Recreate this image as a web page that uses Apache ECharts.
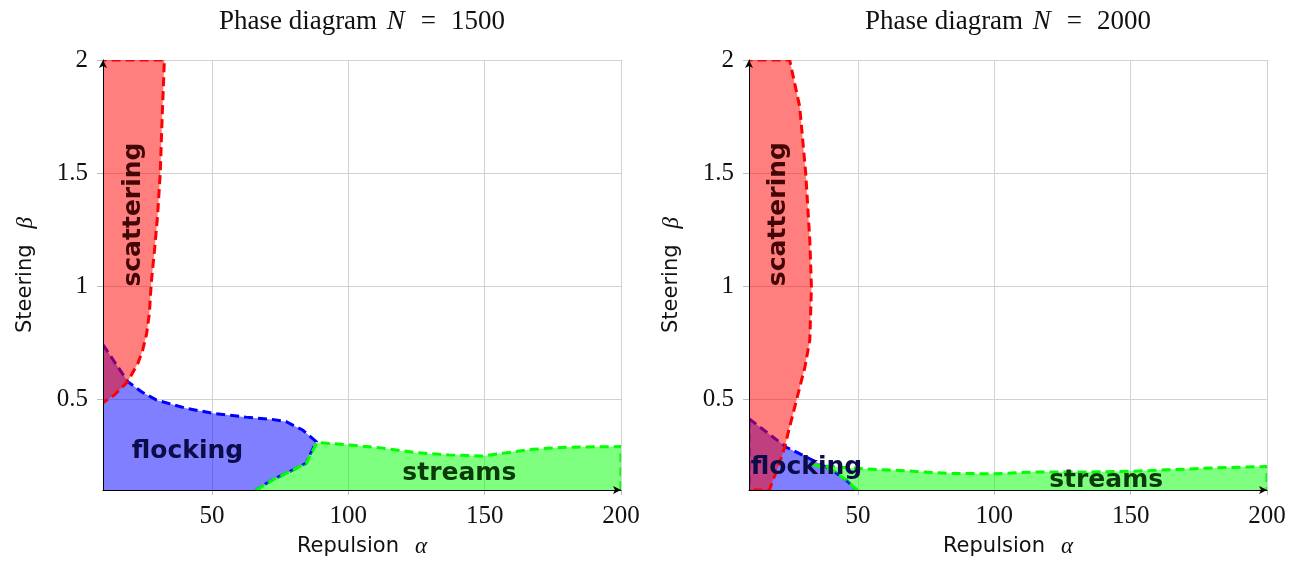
<!DOCTYPE html>
<html>
<head>
<meta charset="utf-8">
<title>Phase diagrams</title>
<script src="https://cdn.jsdelivr.net/npm/echarts@6/dist/echarts.min.js"></script>
<style>
  html, body { margin: 0; padding: 0; background: #ffffff; }
  #chart { width: 1303px; height: 565px; }
</style>
</head>
<body>
<div id="chart"></div>
<script>
// ---- axes ----
const X_RANGE = [10, 200];
const Y_RANGE = [0.1, 2];
const X_TICKS = [50, 100, 150, 200];
const Y_TICKS = [0.5, 1, 1.5, 2];
const PANEL_N = [1500, 2000];

// ---- phase regions, (alpha, beta) boundary vertices, N = 1500 ----
// vertices at alpha = 8 / beta = 0.08 lie just outside the plot, so the
// region edges that run along the axes are hidden by the clip
const scattering1500 = [[8, 2], [32.5, 2], [32.2, 1.9], [31.7, 1.75], [31.0, 1.5], [30.0, 1.31],
  [28.9, 1.16], [27.7, 1.015], [27.0, 0.88], [26.0, 0.79], [24.6, 0.72], [22.8, 0.66],
  [19.1, 0.579], [14.2, 0.52], [10.5, 0.49], [10, 0.485], [8, 0.485]];
const flocking1500 = [[10, 0.742], [19.1, 0.579], [24.0, 0.535], [29.5, 0.498], [40.5, 0.461],
  [50.3, 0.439], [62.5, 0.422], [72.0, 0.412], [77.2, 0.402], [83.2, 0.365], [88.2, 0.314],
  [84.5, 0.218], [79.6, 0.188], [72.1, 0.144], [66.2, 0.1], [66.2, 0.08], [8, 0.08], [8, 0.742]];
const streams1500 = [[66.2, 0.1], [72.1, 0.144], [79.6, 0.188], [84.5, 0.218], [88.5, 0.31],
  [100.4, 0.299], [112.6, 0.285], [124.8, 0.265], [137.0, 0.255], [149.2, 0.25], [156.6, 0.262],
  [167.6, 0.28], [179.8, 0.289], [200, 0.292], [200, 0.08], [66.2, 0.08]];

// ---- phase regions, N = 2000 ----
const scattering2000 = [[8, 2], [24.9, 2], [28.6, 1.794], [30.8, 1.5], [32.3, 1.204],
  [32.9, 0.997], [32.3, 0.762], [30.5, 0.643], [27.4, 0.496], [24.9, 0.378],
  [23.1, 0.289], [20.6, 0.2], [17.6, 0.105], [17.4, 0.1], [8, 0.1]];
const flocking2000 = [[10, 0.415], [23.7, 0.289], [32.3, 0.238], [40.8, 0.186], [45.8, 0.142],
  [49.5, 0.1], [49.5, 0.08], [10, 0.08]];
const streams2000 = [[49.5, 0.1], [45.8, 0.142], [40.8, 0.186], [35.0, 0.208], [51.8, 0.194],
  [65.3, 0.186], [83.7, 0.173], [100.2, 0.172], [114.2, 0.179], [132.5, 0.179], [150.9, 0.183],
  [163.2, 0.189], [181.6, 0.198], [200, 0.204], [200, 0.08], [49.5, 0.08]];

// ---- region names and where they sit (alpha, beta) ----
const REGION_NAMES = ['scattering', 'flocking', 'streams'];
const nameAt1500 = [[21.2, 1.317], [41.0, 0.268], [140.7, 0.171]];
const nameAt2000 = [[20.9, 1.319], [31.1, 0.2], [141.0, 0.144]];

const PHASES = {
  flocking:   { fill: 'rgba(0,0,255,0.5)',   stroke: '#0000ff', text: '#0c0c48' },
  streams:    { fill: 'rgba(0,255,0,0.5)',   stroke: '#00ff00', text: '#0a3a0a' },
  scattering: { fill: 'rgba(255,0,0,0.5)',   stroke: '#ff0000', text: '#420606' }
};

const SERIF = '"Liberation Serif", "DejaVu Serif", serif';
const SANS = '"DejaVu Sans", "Noto Sans", sans-serif';

const GRIDS = [
  { left: 103, top: 60, width: 518, height: 430 },
  { left: 749, top: 60, width: 518, height: 430 }
];

const axisNameRich = {
  s: { fontFamily: SANS, fontSize: 21, color: '#111' },
  g: { fontFamily: SERIF, fontStyle: 'italic', fontSize: 23, color: '#111', padding: [0, 0, 0, 16] }
};

function mainX(g) {
  return {
    type: 'value', gridIndex: g, min: X_RANGE[0], max: X_RANGE[1], position: 'bottom',
    axisLine: { show: false, onZero: false },
    axisTick: { show: true, customValues: X_TICKS, length: 5, lineStyle: { color: '#bdbdbd' } },
    axisLabel: { customValues: X_TICKS, margin: 14, fontFamily: SERIF, fontSize: 25, color: '#111' },
    splitLine: { show: true, lineStyle: { color: '#d2d2d2', width: 1 } },
    name: '{s|Repulsion}{g|α}', nameLocation: 'middle', nameGap: 45,
    nameTextStyle: { rich: axisNameRich }
  };
}
function mainY(g) {
  return {
    type: 'value', gridIndex: g, min: Y_RANGE[0], max: Y_RANGE[1], position: 'left',
    axisLine: { show: false, onZero: false },
    axisTick: { show: true, customValues: Y_TICKS, length: 6, lineStyle: { color: '#bdbdbd' } },
    axisLabel: { customValues: Y_TICKS, margin: 15, fontFamily: SERIF, fontSize: 25, color: '#111' },
    splitLine: { show: true, lineStyle: { color: '#d2d2d2', width: 1 } },
    name: '{s|Steering}{g|β}', nameLocation: 'middle', nameGap: 66, nameRotate: 90,
    nameTextStyle: { rich: axisNameRich }
  };
}
// black axis lines with arrow heads, drawn above the regions
function lineAxis(g, isX) {
  return {
    type: 'value', gridIndex: g, z: 6,
    min: isX ? X_RANGE[0] : Y_RANGE[0], max: isX ? X_RANGE[1] : Y_RANGE[1],
    position: isX ? 'bottom' : 'left',
    axisLine: { show: true, onZero: false, symbol: ['none', 'arrow'], symbolSize: [6, 8],
      lineStyle: { color: '#000', width: 1 } },
    axisTick: { show: false }, axisLabel: { show: false }, splitLine: { show: false }
  };
}

function regionSeries(points, g, phase) {
  const st = PHASES[phase];
  return {
    type: 'custom', name: phase, xAxisIndex: g, yAxisIndex: g, clip: true, silent: true,
    data: points,
    renderItem(params, api) {
      if (params.dataIndex !== 0) return null;
      const pts = points.map(p => api.coord(p));
      return {
        type: 'polygon',
        shape: { points: pts },
        style: { fill: st.fill, stroke: st.stroke, lineWidth: 3, lineDash: [9, 5] }
      };
    }
  };
}

function nameSeries(anchors, g) {
  return {
    type: 'custom', xAxisIndex: g, yAxisIndex: g, z: 4, silent: true,
    data: anchors,
    renderItem(params, api) {
      const phase = REGION_NAMES[params.dataIndex];
      const c = api.coord([api.value(0), api.value(1)]);
      return {
        type: 'text', x: c[0], y: c[1],
        rotation: phase === 'scattering' ? Math.PI / 2 : 0,
        style: {
          text: phase, fill: PHASES[phase].text,
          font: 'bold 25px ' + SANS,
          align: 'center', verticalAlign: 'middle'
        }
      };
    }
  };
}

const centers = GRIDS.map(gr => gr.left + gr.width / 2);

const titleRich = {
  r: { fontFamily: SERIF, fontSize: 27, fontWeight: 'normal', color: '#111' },
  i: { fontFamily: SERIF, fontStyle: 'italic', fontSize: 27, fontWeight: 'normal', color: '#111',
       padding: [0, 0, 0, 3] },
  e: { fontFamily: SERIF, fontSize: 27, fontWeight: 'normal', color: '#111', padding: [0, 15, 0, 16] }
};

const option = {
  animation: false,
  backgroundColor: '#ffffff',
  title: PANEL_N.map((n, i) => ({
    text: '{r|Phase diagram }{i|N}{e|=}{r|' + n + '}',
    left: centers[i], top: 8, padding: 0, textAlign: 'center',
    textStyle: { fontWeight: 'normal', rich: titleRich }
  })),
  grid: GRIDS.map(gr => Object.assign({ containLabel: false }, gr)),
  xAxis: [mainX(0), mainX(1), lineAxis(0, true), lineAxis(1, true)],
  yAxis: [mainY(0), mainY(1), lineAxis(0, false), lineAxis(1, false)],
  series: [
    regionSeries(flocking1500, 0, 'flocking'),
    regionSeries(streams1500, 0, 'streams'),
    regionSeries(scattering1500, 0, 'scattering'),
    nameSeries(nameAt1500, 0),
    regionSeries(flocking2000, 1, 'flocking'),
    regionSeries(streams2000, 1, 'streams'),
    regionSeries(scattering2000, 1, 'scattering'),
    nameSeries(nameAt2000, 1)
  ]
};

const chart = echarts.init(document.getElementById('chart'), null, { renderer: 'canvas' });
chart.setOption(option);
</script>
</body>
</html>
